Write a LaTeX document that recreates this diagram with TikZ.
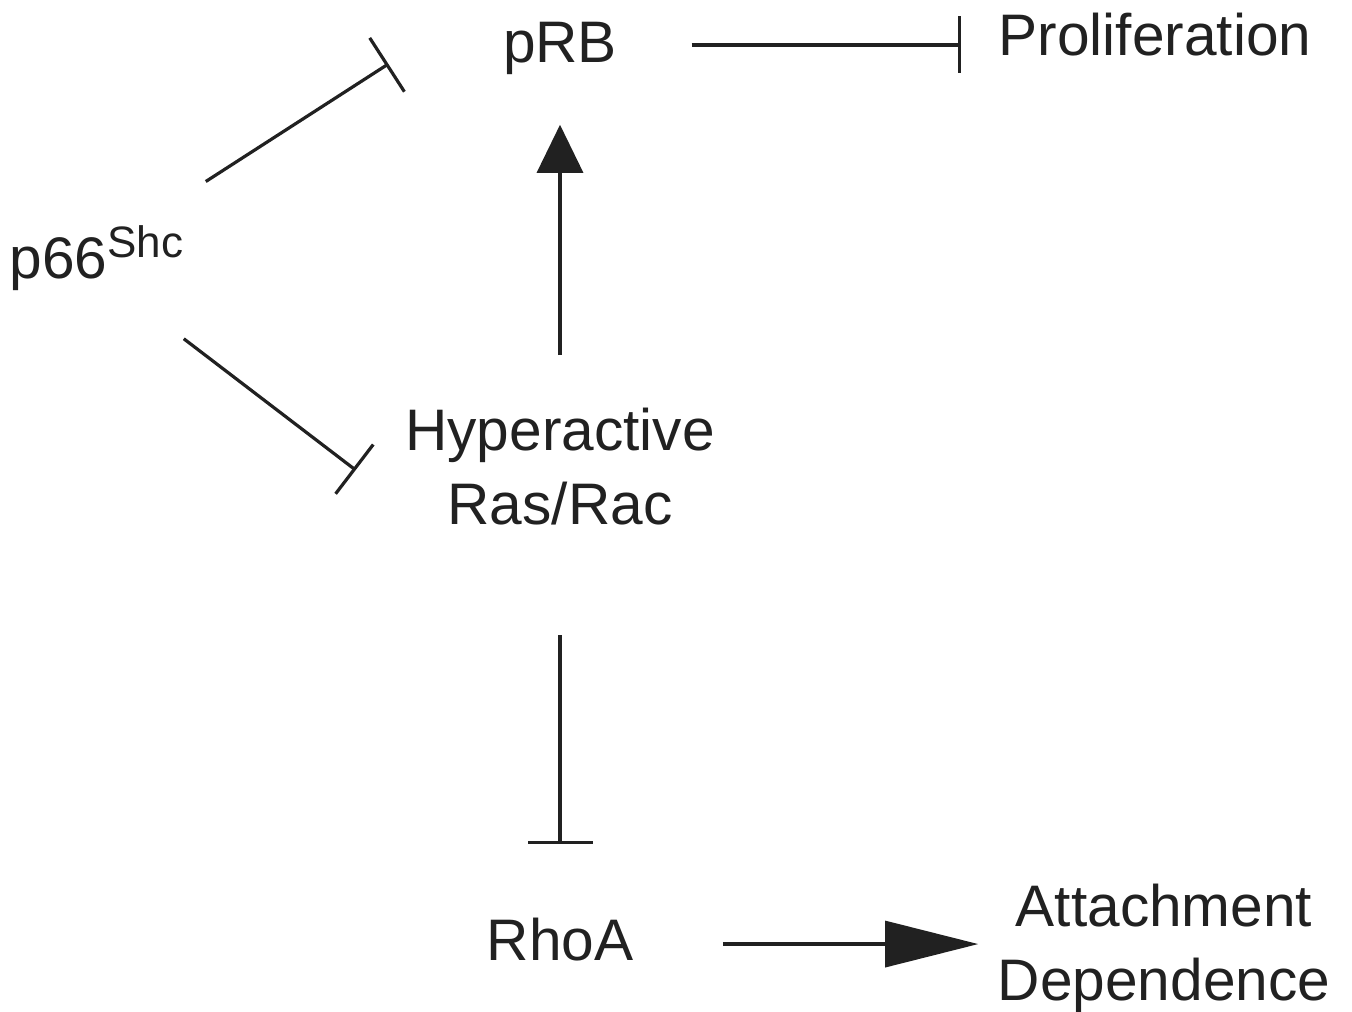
\documentclass[tikz,border=0pt]{standalone}
\usepackage{fontspec}
\setmainfont{Liberation Sans}
\usetikzlibrary{arrows.meta}
\usetikzlibrary{calc}
\usetikzlibrary{positioning}

\begin{document}
\begin{tikzpicture}[
		x=0.5pt,
		y=-0.5pt,
		font=\fontsize{29.3pt}{37pt}\selectfont,
		line width=1.6pt,
		color=black!87
	]
		\tikzset{
			protein/.style={inner sep=0, align=center},
			inhibit/.style={-{Bar[width=#1]}},
			activate/.style={-{Triangle[length=#1, width=23pt]}}
		}

		\useasboundingbox (0,0) rectangle (1352,1011);

		% species
		\node[protein, anchor=base] (prb) at (560,63) {pRB};
		\node[protein, anchor=base] (prolif) at (1155,56) {Proliferation};
		\node[protein, anchor=base west] (p66) at (8,278)
			{p66\raisebox{10.5pt}{\fontsize{22pt}{22pt}\selectfont Shc}};
		\node[protein, anchor=north] (hyper) at (560,406) {Hyperactive\\Ras/Rac};
		\node[protein, anchor=base] (rhoa) at (560,960) {RhoA};
		\node[protein, anchor=north] (attach) at (1164,882) {Attachment\\Dependence};

		% edges
		\draw[inhibit=28.5pt, shorten <=36.5pt, shorten >=18pt]
			([yshift=2pt]prb.east) -- ([yshift=2pt]prb.east -| prolif.west);
		\draw[inhibit=32pt]
			([shift={(21,-42)}]p66.north east) -- ([shift={(-113,15)}]prb.west);
		\draw[inhibit=31pt]
			([shift={(-1,47)}]p66.south east) -- ([shift={(-48,4)}]hyper.west);
		\draw[activate=24pt, shorten <=25.5pt, shorten >=24pt]
			(hyper.north) -- (prb.south);
		\draw[inhibit=32.5pt, shorten <=54.5pt, shorten >=36pt]
			(hyper.south) -- (rhoa.north);
		\draw[activate=46.5pt, shorten <=44pt, shorten >=9pt]
			([yshift=-2.5pt]rhoa.east) -- ([yshift=-2.5pt]rhoa.east -| attach.west);
\end{tikzpicture}
\end{document}
